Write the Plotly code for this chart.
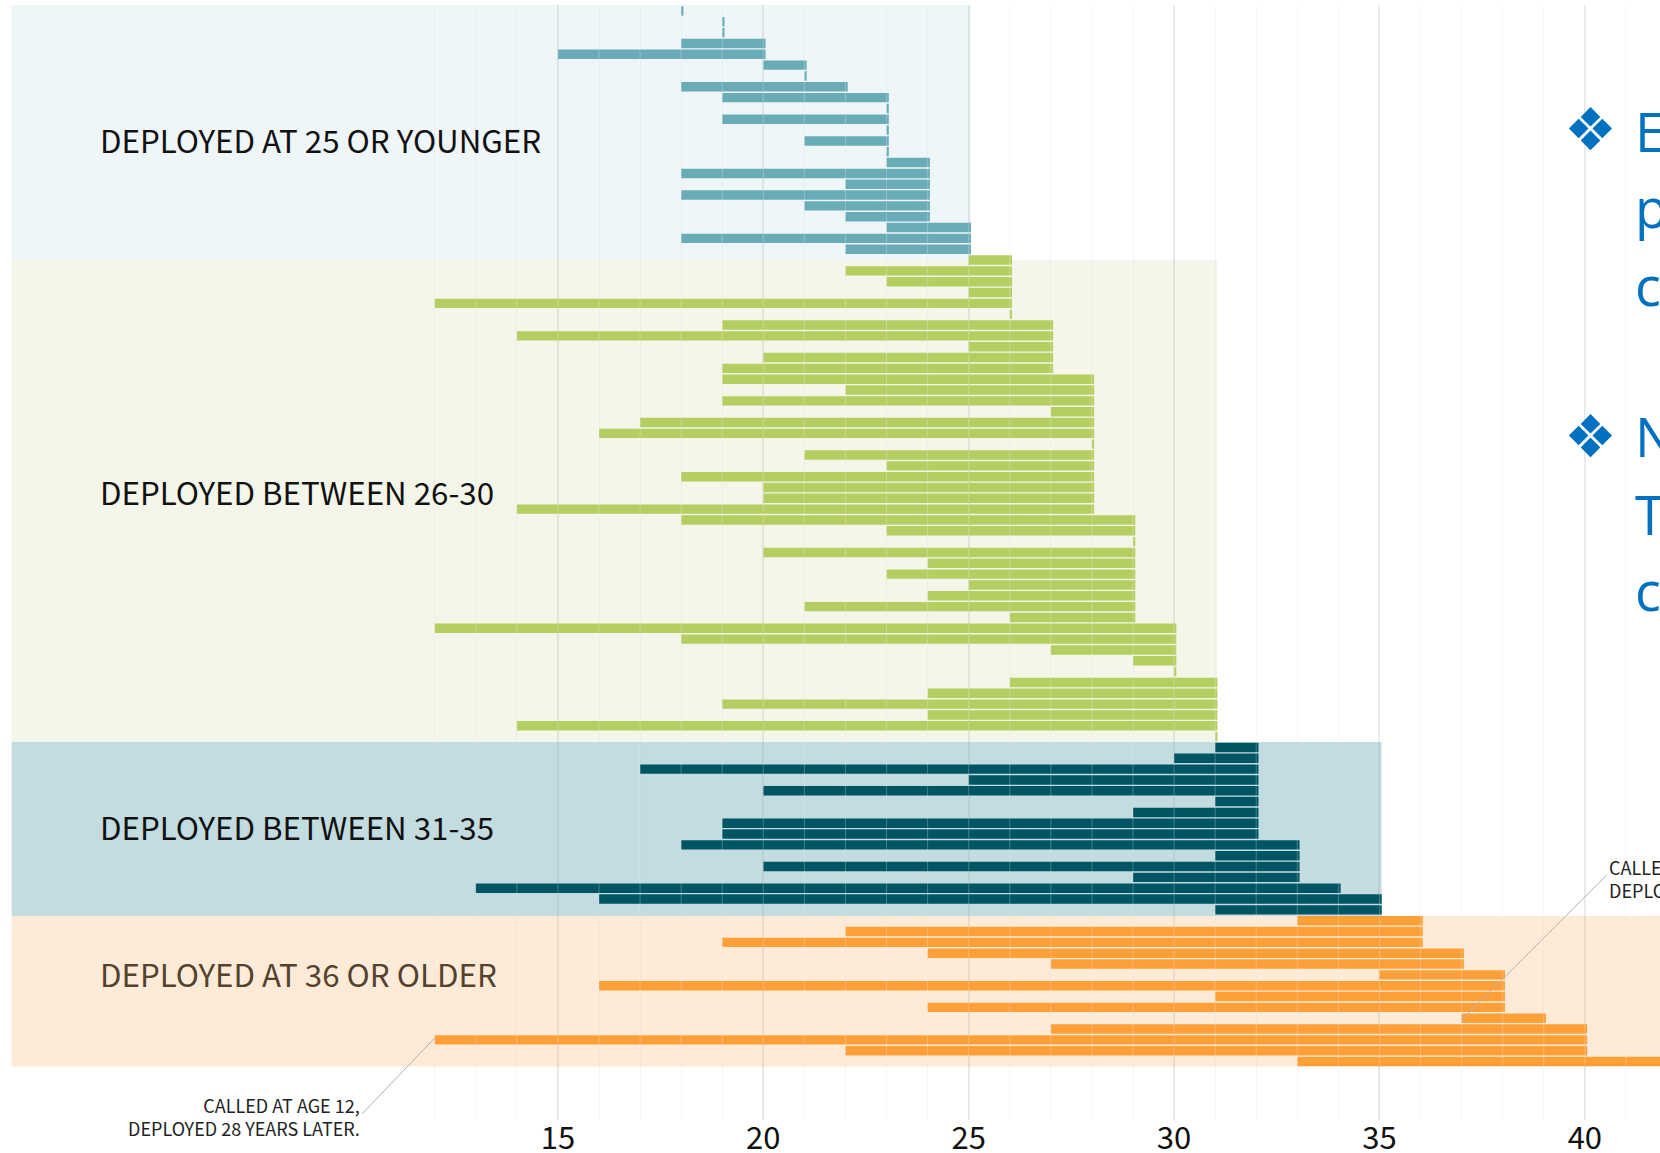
import plotly.graph_objects as go

# Ages called / deployed per soldier, top to bottom, per group
young_called = [18, 19, 19, 18, 15, 20, 21, 18, 19, 23, 19, 23, 21, 23, 23, 18, 22, 18, 21, 22, 23, 18, 22]
young_deployed = [18, 19, 19, 20, 20, 21, 21, 22, 23, 23, 23, 23, 23, 23, 24, 24, 24, 24, 24, 24, 25, 25, 25]
mid1_called = [25, 22, 23, 25, 12, 26, 19, 14, 25, 20, 19, 19, 22, 19, 27, 17, 16, 28, 21, 23, 18, 20, 20, 14,
               18, 23, 29, 20, 24, 23, 25, 24, 21, 26, 12, 18, 27, 29, 30, 26, 24, 19, 24, 14, 31]
mid1_deployed = [26, 26, 26, 26, 26, 26, 27, 27, 27, 27, 27, 28, 28, 28, 28, 28, 28, 28, 28, 28, 28, 28, 28, 28,
                 29, 29, 29, 29, 29, 29, 29, 29, 29, 29, 30, 30, 30, 30, 30, 31, 31, 31, 31, 31, 31]
mid2_called = [31, 30, 17, 25, 20, 31, 29, 19, 19, 18, 31, 20, 29, 13, 16, 31]
mid2_deployed = [32, 32, 32, 32, 32, 32, 32, 32, 32, 33, 33, 33, 33, 34, 35, 35]
old_called = [33, 22, 19, 24, 27, 35, 16, 31, 24, 37, 27, 12, 22, 33]
old_deployed = [36, 36, 36, 37, 37, 38, 38, 38, 38, 39, 40, 40, 40, 42]

group_labels = ["DEPLOYED AT 25 OR YOUNGER", "DEPLOYED BETWEEN 26-30", "DEPLOYED BETWEEN 31-35", "DEPLOYED AT 36 OR OLDER"]
group_colors = ["#69acb8", "#b4ce62", "#005564", "#ff9f38"]
band_colors = ["#eef6f8", "#f3f6e8", "#c2dce0", "#feebd7"]
band_right_ages = [25, 31, 35, 42]
tick_ages = [15, 20, 25, 30, 35, 40]
minor_ages = list(range(12, 42))

W, H = 1660, 1153
TOP, BOTTOM = 5, 1120
FONT = "Noto Sans CJK SC"


def px(x):
    return x / W


def py(y):
    return 1 - (y - TOP) / (BOTTOM - TOP)


groups = [(young_called, young_deployed), (mid1_called, mid1_deployed),
          (mid2_called, mid2_deployed), (old_called, old_deployed)]
fig = go.Figure()
row = 0
for (called, deployed), color in zip(groups, group_colors):
    rows = list(range(row, row + len(called)))
    fig.add_trace(go.Bar(
        orientation="h", y=rows, base=called,
        x=[d - c + 0.055 for c, d in zip(called, deployed)],
        marker=dict(color=color, line=dict(width=0)),
        hoverinfo="skip", showlegend=False))
    row += len(called)
band_edges = [-0.55, 22.99, 67.5, 83.56, 97.47]

shapes = []
for i, (color, right) in enumerate(zip(band_colors, band_right_ages)):
    shapes.append(dict(type="rect", layer="below", xref="x", yref="y", x0=1.7, x1=right + 0.05,
                       y0=band_edges[i], y1=band_edges[i + 1], fillcolor=color, line=dict(width=0)))
for age in minor_ages:
    shapes.append(dict(type="line", layer="above", xref="x", yref="y", x0=age, x1=age, y0=-0.55, y1=97.47,
                       line=dict(color="rgba(255,255,255,0.25)", width=1)))
# Leader lines
shapes.append(dict(type="line", layer="above", xref="x", yref="paper", x0=12, x1=(362 - 558) / 41.08 + 15,
                   y0=py(1038), y1=py(1114), line=dict(color="#b0b0b0", width=1)))
shapes.append(dict(type="line", layer="above", xref="x", yref="paper", x0=37, x1=(1607 - 558) / 41.08 + 15,
                   y0=py(1020), y1=py(875), line=dict(color="#b0b0b0", width=1)))

annotations = []


def text(x, y, s, size, color="#111111", anchor="left", family=FONT, align="left"):
    annotations.append(dict(xref="paper", yref="paper", x=px(x), y=py(y), text=s, showarrow=False,
                            xanchor=anchor, yanchor="middle", align=align,
                            font=dict(family=family, size=size, color=color)))


for label, yc, col in zip(group_labels, [139, 491, 826, 973], ["#111111", "#111111", "#111111", "#54422f"]):
    text(97.5, yc, label, 31.3, col)

text(362, 1116.5, "CALLED AT AGE 12,<br>DEPLOYED 28 YEARS LATER.", 18, "#222222", "right", align="right")
text(1607, 878.5, "CALLED AT AGE 37,<br>DEPLOYED 2 YEARS LATER.", 18, "#222222", "left")

BLUE = "#0070c0"
for ch, x, y in [("E", 1633, 131), ("p", 1633, 207), ("c", 1633, 284.5),
                 ("N", 1633, 436), ("T", 1633, 514), ("c", 1633, 590)]:
    text(x, y, ch, 54, BLUE, family="Open Sans")
for y in (129.5, 436.5):
    text(1590.7, y, "\u2756", 59, BLUE, "center", family="DejaVu Sans")

fig.update_layout(
    width=W, height=H, margin=dict(l=0, r=0, t=TOP, b=H - BOTTOM, pad=0),
    paper_bgcolor="white", plot_bgcolor="white", barmode="overlay", bargap=0.13,
    showlegend=False, shapes=shapes, annotations=annotations,
    xaxis=dict(range=[1.417, 41.83], tickmode="array", tickvals=tick_ages, showgrid=True, automargin=False,
               gridcolor="rgba(0,0,0,0.07)", gridwidth=2, zeroline=False, showline=False, ticks="",
               ticklabelstandoff=-3,
               tickfont=dict(family=FONT, size=31, color="#111111"),
               minor=dict(tickmode="array", tickvals=minor_ages, showgrid=True,
                          gridcolor="rgba(0,0,0,0.035)", gridwidth=1)),
    yaxis=dict(range=[102.4, -0.55], visible=False, showgrid=False, zeroline=False, automargin=False),
)
fig.write_html("out.html", config=dict(displayModeBar=False),
               post_script="document.body.style.margin='0';window.dispatchEvent(new Event('resize'));")
